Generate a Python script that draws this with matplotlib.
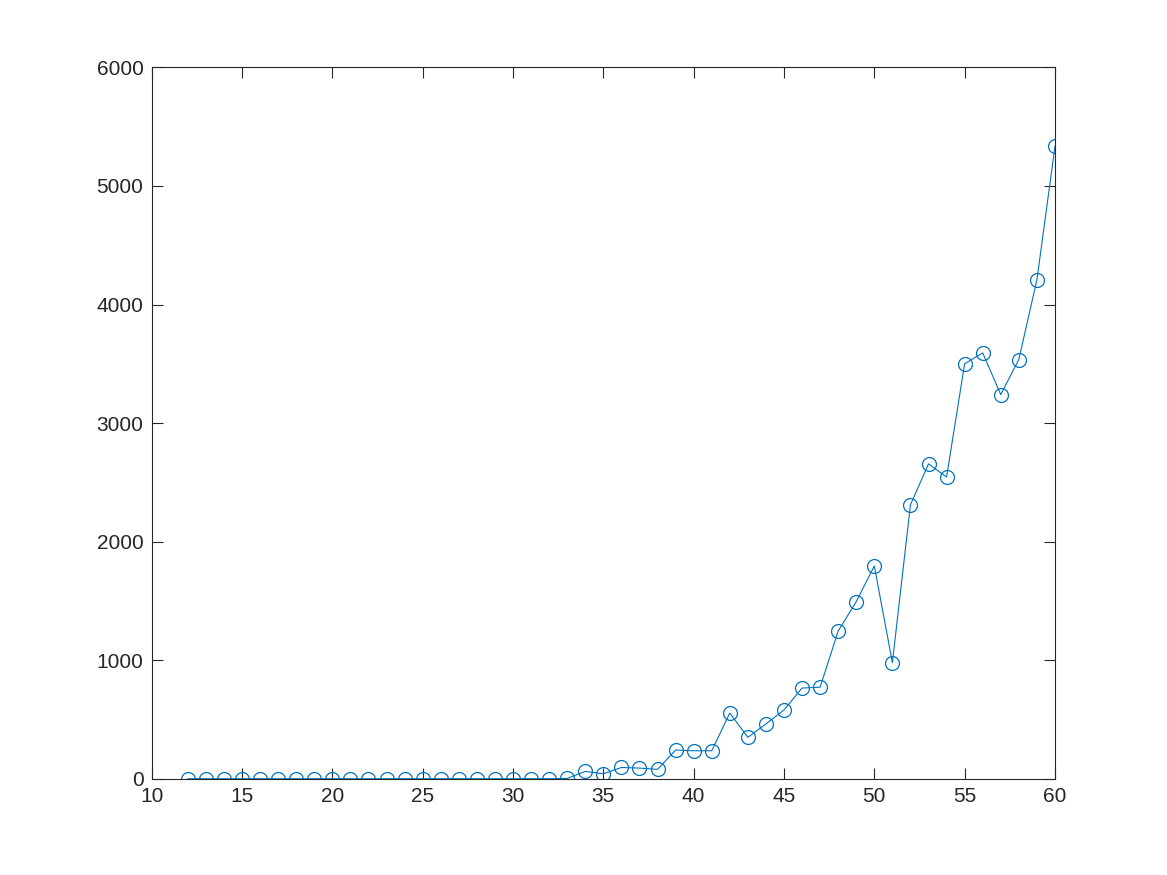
import matplotlib
matplotlib.use("Agg")
import matplotlib.pyplot as plt

x = list(range(12, 61))
# 12..32 sit on zero
y = [0, 0, 0, 0, 0, 0, 0, 0, 0, 0, 0, 0, 0, 0, 0, 0, 0, 0, 0, 0, 0,
     3, 62, 42, 95, 90, 79, 242, 236, 236, 554, 349, 462, 580, 765, 772,
     1246, 1494, 1795, 979, 2310, 2656, 2545, 3500, 3592, 3240, 3536, 4208, 5333]

plt.rcParams["font.family"] = ["Liberation Sans", "DejaVu Sans"]

fig = plt.figure(figsize=(11.67, 8.75), dpi=100)
ax = fig.add_axes([0.13, 0.11, 0.774, 0.813])
ax.plot(x, y, "-o", color="#0072BD", linewidth=0.8, markersize=10,
        markerfacecolor="none", markeredgewidth=0.9)

ax.set_xlim(10, 60)
ax.set_ylim(0, 6000)
ax.set_xticks(range(10, 61, 5))
ax.set_yticks(range(0, 6001, 1000))
ax.tick_params(direction="in", top=True, right=True, length=8, width=0.8,
               labelsize=15, colors="#262626", pad=6)
for s in ax.spines.values():
    s.set_color("#262626")
    s.set_linewidth(0.8)

fig.savefig("out.png", dpi=100)
